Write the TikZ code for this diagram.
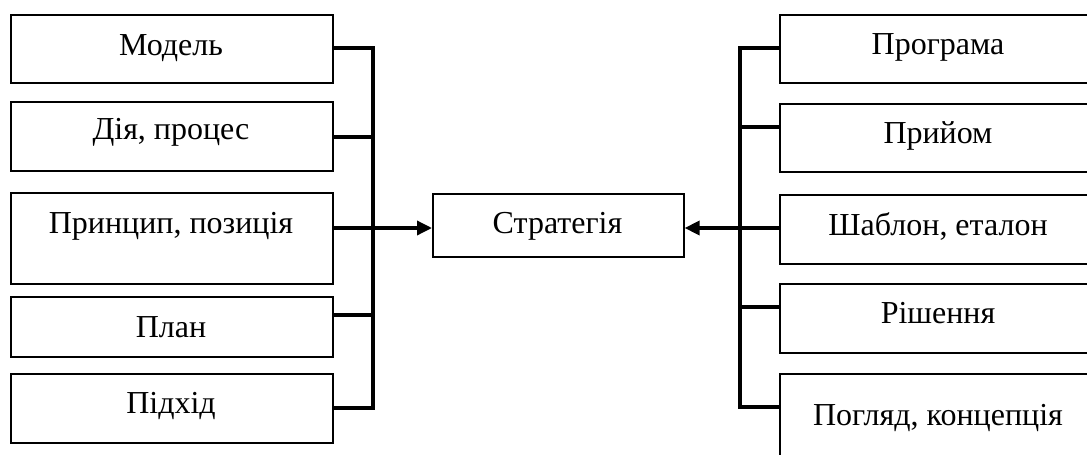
\documentclass[tikz,border=0pt]{standalone}
\usepackage{fontspec}
\setmainfont{Liberation Serif}
\usetikzlibrary{arrows.meta}
\begin{document}
\begin{tikzpicture}[x=1pt,y=-1pt,
  boxshape/.style={draw=black,line width=1.6pt,rectangle,inner sep=0pt,anchor=north west},
  lbl/.style={font=\fontsize{32}{36}\selectfont,anchor=base,inner sep=0pt},
  conn/.style={draw=black,line width=3.4pt},
  arr/.style={conn,-{Triangle[length=15pt,width=14pt]}}]
\useasboundingbox (0,0) rectangle (1087,455);
\clip (0,0) rectangle (1087,455);
% left boxes
\node[boxshape,minimum width=322pt,minimum height=68pt] (l1) at (10,14) {};
\node[boxshape,minimum width=322pt,minimum height=69pt] (l2) at (10,101) {};
\node[boxshape,minimum width=322pt,minimum height=91pt] (l3) at (10,192) {};
\node[boxshape,minimum width=322pt,minimum height=60pt] (l4) at (10,296) {};
\node[boxshape,minimum width=322pt,minimum height=69pt] (l5) at (10,373) {};
\node[lbl] (l1t) at (171,55) {Модель};
\node[lbl] (l2t) at (171,139) {Дія, процес};
\node[lbl] (l3t) at (171,233) {Принцип, позиція};
\node[lbl] (l4t) at (171,337) {План};
\node[lbl] (l5t) at (171,413) {Підхід};
% center
\node[boxshape,minimum width=251pt,minimum height=63pt] (c) at (432,193) {};
\node[lbl] (ct) at (557.5,233) {Стратегія};
% right boxes
\node[boxshape,minimum width=322pt,minimum height=68pt] (r1) at (779,14) {};
\node[boxshape,minimum width=322pt,minimum height=68pt] (r2) at (779,103) {};
\node[boxshape,minimum width=322pt,minimum height=69pt] (r3) at (779,194) {};
\node[boxshape,minimum width=322pt,minimum height=69pt] (r4) at (779,283) {};
\node[boxshape,minimum width=322pt,minimum height=90pt] (r5) at (779,373) {};
\node[lbl] (r1t) at (938,54) {Програма};
\node[lbl] (r2t) at (938,143) {Прийом};
\node[lbl] (r3t) at (938,235) {Шаблон, еталон};
\node[lbl] (r4t) at (938,323) {Рішення};
\node[lbl] (r5t) at (938,425) {Погляд, концепція};
% bus coordinates
\coordinate (bl1) at (373,48);
\coordinate (bl2) at (373,137);
\coordinate (bl3) at (373,228);
\coordinate (bl4) at (373,315);
\coordinate (bl5) at (373,408);
\coordinate (br1) at (740,48);
\coordinate (br2) at (740,127);
\coordinate (br3) at (740,228);
\coordinate (br4) at (740,307);
\coordinate (br5) at (740,407);
% left connectors
\draw[conn] (bl1 -| l1.east) -- (bl1);
\draw[conn] (bl2 -| l2.east) -- (bl2);
\draw[conn] (bl3 -| l3.east) -- (bl3);
\draw[conn] (bl4 -| l4.east) -- (bl4);
\draw[conn] (bl5 -| l5.east) -- (bl5);
\draw[conn,line cap=rect] (bl1) -- (bl5);
\draw[arr] (bl3) -- (bl3 -| c.west);
% right connectors
\draw[conn] (br1 -| r1.west) -- (br1);
\draw[conn] (br2 -| r2.west) -- (br2);
\draw[conn] (br3 -| r3.west) -- (br3);
\draw[conn] (br4 -| r4.west) -- (br4);
\draw[conn] (br5 -| r5.west) -- (br5);
\draw[conn,line cap=rect] (br1) -- (br5);
\draw[arr] (br3) -- (br3 -| c.east);
\end{tikzpicture}
\end{document}
